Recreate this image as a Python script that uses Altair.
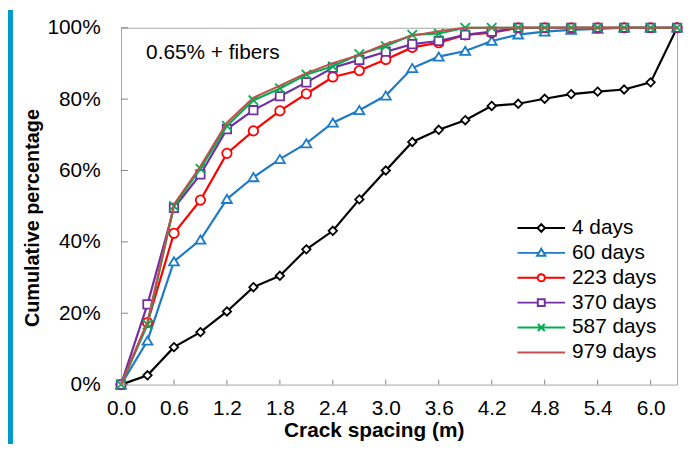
import altair as alt
import pandas as pd

# ---------------- data ----------------
spacing = [0.0, 0.3, 0.6, 0.9, 1.2, 1.5, 1.8, 2.1, 2.4, 2.7, 3.0,
           3.3, 3.6, 3.9, 4.2, 4.5, 4.8, 5.1, 5.4, 5.7, 6.0, 6.3]

series_names = ["4 days", "60 days", "223 days", "370 days", "587 days", "979 days"]

pct_4 = [0, 2.6, 10.5, 14.7, 20.5, 27.3, 30.5, 37.9, 43.1, 51.9, 60.0,
         68.0, 71.4, 74.1, 78.1, 78.7, 80.1, 81.4, 82.1, 82.7, 84.7, 100]
pct_60 = [0, 12.3, 34.5, 40.6, 52.0, 58.1, 63.2, 67.6, 73.4, 76.9, 81.0,
          88.7, 91.9, 93.5, 96.3, 98.1, 98.9, 99.4, 99.7, 100, 100, 100]
pct_223 = [0, 17.4, 42.4, 51.7, 64.8, 71.1, 76.7, 81.5, 86.2, 88.0, 91.1,
           94.5, 95.8, 98.0, 98.6, 100, 100, 100, 100, 100, 100, 100]
pct_370 = [0, 22.5, 49.5, 58.9, 71.6, 76.9, 80.8, 84.7, 88.8, 91.0, 93.3,
           95.4, 96.3, 98.0, 98.9, 100, 100, 100, 100, 100, 100, 100]
pct_587 = [0, 16.8, 50.0, 60.5, 72.5, 79.7, 83.0, 86.9, 89.2, 92.6, 94.9,
           98.0, 98.4, 100, 100, 100, 100, 100, 100, 100, 100, 100]
pct_979 = [0, 17.6, 50.5, 61.2, 73.4, 80.4, 83.8, 87.3, 90.1, 92.4, 95.5,
           97.8, 99.0, 100, 100, 100, 100, 100, 100, 100, 100, 100]

series_values = [pct_4, pct_60, pct_223, pct_370, pct_587, pct_979]
colors = ["#000000", "#1E7BC6", "#FF0000", "#7030A0", "#00B050", "#C0504D"]

x_tick_values = [0.0, 0.6, 1.2, 1.8, 2.4, 3.0, 3.6, 4.2, 4.8, 5.4, 6.0]
y_tick_values = [0, 20, 40, 60, 80, 100]

annotation = [{"label": "0.65% + fibers", "spacing": 0.284, "pct": 92.8}]

# ---------------- styles ----------------
FONT = "Liberation Sans"
marker_shapes = [
    "M0,-1L1,0L0,1L-1,0Z",            # diamond
    "M0,-0.85L1,0.8L-1,0.8Z",         # triangle
    "circle",
    "square",
    "M-1,-1L1,1M-1,1L1,-1",           # x
    None,
]
marker_sizes = [72, 100, 90, 72, 90, 0]

legend_paths = [
    "M-2.4,0L-0.38,0M0.38,0L2.4,0M0,-0.38L0.38,0L0,0.38L-0.38,0Z",
    "M-2.4,0L-0.24,0M0.24,0L2.4,0M0,-0.42L0.42,0.3L-0.42,0.3Z",
    "M-2.4,0L-0.36,0M0.36,0L2.4,0M0.36,0A0.36,0.36,0,1,1,-0.36,0A0.36,0.36,0,1,1,0.36,0",
    "M-2.4,0L-0.35,0M0.35,0L2.4,0M-0.35,-0.35L0.35,-0.35L0.35,0.35L-0.35,0.35Z",
    "M-2.4,0L2.4,0M-0.35,-0.35L0.35,0.35M-0.35,0.35L0.35,-0.35",
    "M-2.4,0L2.4,0",
]

W, H = 561, 360

rows = []
for name, vals in zip(series_names, series_values):
    for s, v in zip(spacing, vals):
        rows.append({"series": name, "spacing": s, "pct": v})
df = pd.DataFrame(rows)

x_scale = alt.Scale(domain=[0, 6.3], nice=False, zero=False)
y_scale = alt.Scale(domain=[0, 100], nice=False)

x_axis = alt.Axis(
    values=x_tick_values, format=".1f", title="Crack spacing (m)",
    domain=False, ticks=False, tickSize=0, grid=False,
    labelFont=FONT, labelFontSize=21, labelColor="#000000",
    labelPadding=13.5, labelFlush=False, labelOverlap=False,
    titleFont=FONT, titleFontSize=21, titleFontWeight="bold", titleColor="#000000",
    titleX=255, titleY=52.5, titleAlign="center", titleBaseline="alphabetic",
)
y_axis = alt.Axis(
    values=y_tick_values, labelExpr="datum.value + '%'", title="Cumulative percentage",
    domain=False, ticks=False, tickSize=0, grid=False,
    labelFont=FONT, labelFontSize=21, labelColor="#000000",
    labelPadding=21, labelFlush=False, labelOverlap=False,
    titleFont=FONT, titleFontSize=20, titleFontWeight="bold", titleColor="#000000",
    titleX=-83, titleY=191.5, titleAngle=270, titleAlign="center", titleBaseline="alphabetic",
)

X = alt.X("spacing:Q", scale=x_scale, axis=x_axis)
Y = alt.Y("pct:Q", scale=y_scale, axis=y_axis)

layers = []

for i, name in enumerate(series_names):
    sub = df[df["series"] == name]
    base = alt.Chart(sub)
    line = base.mark_line(color=colors[i], strokeWidth=2.2 if i < 5 else 2).encode(x=X, y=Y)
    layers.append(line)
    if marker_shapes[i] is not None:
        pts = base.mark_point(
            shape=marker_shapes[i], size=marker_sizes[i], filled=False,
            fill="white", stroke=colors[i], strokeWidth=1.8, opacity=1
        ).encode(x=X, y=Y)
        layers.append(pts)

# ticks (inward)
ytick = alt.Chart(pd.DataFrame({"pct": y_tick_values})).mark_rule(color="#868686", strokeWidth=1).encode(
    y=Y, x=alt.value(0), x2=alt.value(7)
)
xtick = alt.Chart(pd.DataFrame({"spacing": x_tick_values})).mark_rule(color="#868686", strokeWidth=1).encode(
    x=X, y=alt.value(H - 5), y2=alt.value(H)
)
layers.append(ytick)
layers.append(xtick)

ann = alt.Chart(pd.DataFrame(annotation)).mark_text(
    align="left", baseline="middle", font=FONT, fontSize=21, color="#000000"
).encode(x=X, y=Y, text="label:N")
layers.append(ann)

legend_kw = dict(
    orient="none", legendX=413, legendY=191, title=None,
    symbolSize=400, symbolStrokeWidth=2, symbolOffset=0,
    labelFont=FONT, labelFontSize=21, labelColor="#000000",
    labelOffset=20, rowPadding=4.1, padding=0,
)
legend_layer = alt.Chart(pd.DataFrame({"series": series_names})).mark_point(
    filled=False, opacity=1, clip=True, strokeWidth=2
).encode(
    y=alt.value(-300),
    color=alt.Color("series:N", scale=alt.Scale(domain=series_names, range=colors),
                    legend=alt.Legend(**legend_kw)),
    shape=alt.Shape("series:N", scale=alt.Scale(domain=series_names, range=legend_paths),
                    legend=alt.Legend(**legend_kw)),
)
layers.append(legend_layer)

# left blue strip of the frame
strip = alt.Chart(pd.DataFrame({"k": [0]})).mark_rect(color="#0099CC").encode(
    x=alt.value(-114), x2=alt.value(-109), y=alt.value(-18), y2=alt.value(H + 60)
)
layers.append(strip)

chart = alt.layer(*layers).properties(
    width=W, height=H,
    padding={"left": 114, "top": 18, "right": 9, "bottom": 60},
    autosize=alt.AutoSizeParams(type="none"),
).configure_view(stroke="#A6A6A6", strokeWidth=1)

chart.save("out.html", embed_options={"renderer": "svg", "actions": False})
